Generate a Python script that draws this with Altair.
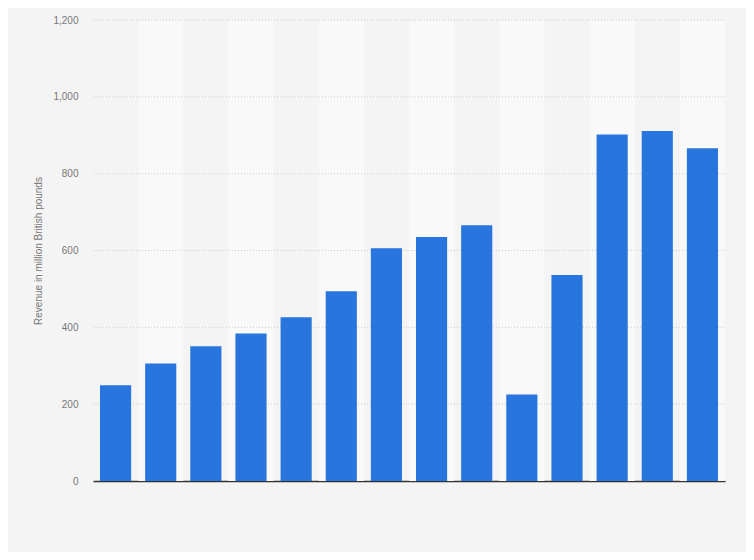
import altair as alt
import pandas as pd

years = ["2011", "2012", "2013", "2014", "2015", "2016", "2017",
         "2018", "2019", "2020", "2021", "2022", "2023", "2024"]
revenue = [249, 306, 351, 384, 426, 494, 606, 635, 666, 225, 536, 902, 911, 866]
y_ticks = [0, 200, 400, 600, 800, 1000, 1200]

df = pd.DataFrame({"year": years, "revenue": revenue})
stripes = pd.DataFrame({"year": years[1::2], "revenue": [1200] * len(years[1::2])})
grid_df = pd.DataFrame({"revenue": y_ticks[1:]})

x_scale = alt.Scale(domain=years, paddingInner=0, paddingOuter=0)
y_scale = alt.Scale(domain=[0, 1200], nice=False)

base_x = alt.X("year:N", scale=x_scale, sort=years,
               axis=alt.Axis(labels=False, ticks=False, title=None,
                             domain=True, domainColor="#333333", domainWidth=1.5))

y_axis = alt.Axis(values=y_ticks, format=",d", title="Revenue in million British pounds",
                  grid=False,
                  domain=False, ticks=False, labelPadding=15,
                  labelColor="#777777", labelFontSize=10, labelFont="Liberation Sans",
                  titleColor="#777777", titleFontSize=10, titleFont="Liberation Sans",
                  titleFontWeight="normal", titlePadding=9)

base_y = alt.Y("revenue:Q", scale=y_scale, axis=y_axis)

stripe_layer = alt.Chart(stripes).mark_bar(
    width=alt.RelativeBandSize(1), color="#f9f9f9"
).encode(x=base_x, y=base_y)

grid_layer = alt.Chart(grid_df).mark_rule(
    color="#cccccc", strokeDash=[1, 2], strokeWidth=1
).encode(y=base_y)

bars = alt.Chart(df).mark_bar(
    width=alt.RelativeBandSize(0.69), color="#2876dd"
).encode(x=base_x, y=base_y)

chart = alt.layer(stripe_layer, grid_layer, bars).properties(
    width=632, height=461,
    background="#f4f4f4",
    padding={"left": 85, "top": 12, "right": 21, "bottom": 71},
    autosize=alt.AutoSizeParams(type="none"),
).configure_view(stroke=None, fill=None)

chart.save("out.html", embed_options={"renderer": "svg", "actions": False})
